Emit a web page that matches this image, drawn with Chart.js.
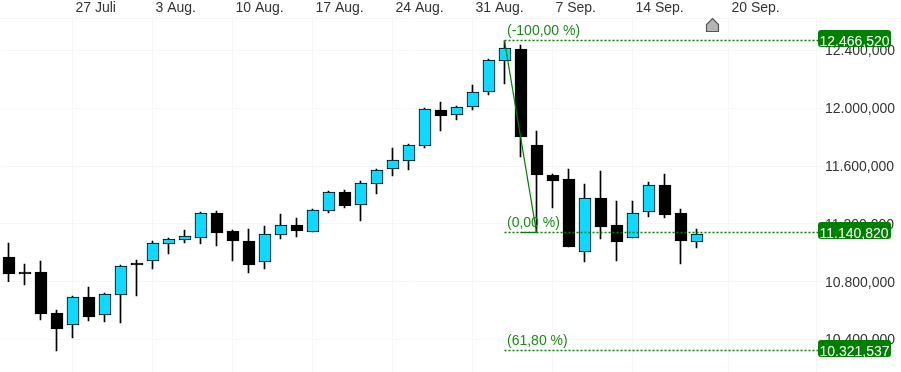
<!DOCTYPE html>
<html>
<head>
<meta charset="utf-8">
<style>
  html, body { margin: 0; padding: 0; background: #fff; }
  #wrap { width: 901px; height: 372px; }
</style>
<script src="https://cdn.jsdelivr.net/npm/chart.js@4/dist/chart.umd.min.js"></script>
</head>
<body>
<div id="wrap"><canvas id="chart" width="901" height="372"></canvas></div>
<script>
let dates = [
  "21 Juli", "22 Juli", "23 Juli", "24 Juli", "27 Juli", "28 Juli", "29 Juli", "30 Juli", "31 Juli",
  "3 Aug.", "4 Aug.", "5 Aug.", "6 Aug.", "7 Aug.", "10 Aug.", "11 Aug.", "12 Aug.", "13 Aug.", "14 Aug.",
  "17 Aug.", "18 Aug.", "19 Aug.", "20 Aug.", "21 Aug.", "24 Aug.", "25 Aug.", "26 Aug.", "27 Aug.", "28 Aug.",
  "31 Aug.", "1 Sep.", "2 Sep.", "3 Sep.", "4 Sep.", "7 Sep.", "8 Sep.", "9 Sep.", "10 Sep.", "11 Sep.",
  "14 Sep.", "15 Sep.", "16 Sep.", "17 Sep.", "18 Sep.", "19 Sep.", "20 Sep.", "21 Sep.", "22 Sep.", "23 Sep.", "24 Sep.", "25 Sep."
];
let week_labels = ["27 Juli", "3 Aug.", "10 Aug.", "17 Aug.", "24 Aug.", "31 Aug.", "7 Sep.", "14 Sep.", "20 Sep."];
let y_ticks = [10400000, 10800000, 11200000, 11600000, 12000000, 12400000];

let opens = [
  10971000, 10867200, 10867200, 10583500, 10500500, 10694200, 10569700, 10708100, 10929500, 10943400, 11061000,
  11088700, 11102500, 11275500, 11150900, 11081700, 10936400, 11123300, 11192500, 11144000, 11289300, 11420800,
  11330900, 11476200, 11580000, 11635300, 11739100, 11988300, 11953700, 12009000, 12112800, 12327300, 12410400,
  11746100, 11538500, 11510800, 11005600, 11379300, 11192500, 11102500, 11282400, 11469300, 11275500, 11074800
];
let highs = [
  11067900, 10922600, 10943400, 10604300, 10701100, 10763400, 10721900, 10915700, 10950300, 11081700, 11102500,
  11157900, 11282400, 11289300, 11157900, 11164800, 11185500, 11268600, 11240900, 11303200, 11427700, 11434700,
  11496900, 11580000, 11725300, 11753000, 12002100, 12043600, 12015900, 12161300, 12341200, 12466500, 12438100,
  11842900, 11545400, 11580000, 11476200, 11566100, 11358500, 11358500, 11490000, 11545400, 11303200, 11164800
];
let lows = [
  10800300, 10777300, 10535100, 10320500, 10410500, 10528100, 10521200, 10514300, 10701100, 10888000, 10991800,
  11067900, 11061000, 11047100, 10943400, 10860300, 10888000, 11095600, 11109400, 11144000, 11275500, 11310100,
  11220100, 11407000, 11531500, 11573100, 11725300, 11842900, 11919100, 11988300, 12092100, 12168200, 11663000,
  11140800, 11310100, 11040200, 10936400, 11095600, 10943400, 11102500, 11247800, 11240900, 10922600, 11033300
];
let closes = [
  10853400, 10853400, 10576600, 10472800, 10694200, 10555800, 10715000, 10908700, 10915700, 11067900, 11095600,
  11116300, 11275500, 11137100, 11081700, 10915700, 11130200, 11192500, 11150900, 11296300, 11420800, 11323900,
  11483100, 11573100, 11642300, 11746100, 11995200, 11946700, 12009000, 12112800, 12334300, 12417300, 11801400,
  11538500, 11496900, 11040200, 11379300, 11178600, 11074800, 11275500, 11469300, 11261700, 11081700, 11130200
];

let fib_values = [12466520, 11140820, 10321537];
let fib_texts = ["(-100,00 %)", "(0,00 %)", "(61,80 %)"];
let fib_boxes = ["12.466,520", "11.140,820", "10.321,537"];
let fib_start = "2 Sep.";
let swing_high = { x: "2 Sep.", y: 12466520 };
let swing_low = { x: "4 Sep.", y: 11140820 };
let swing_foot = { x: "3 Sep.", y: 11140820 };

const FONT = "14px 'Liberation Sans', Arial, sans-serif";
const GREEN = "#008000";
const GRID = "#f6f6f6";

let bodies = opens.map((o, i) => [o, closes[i]]);
let wicks = lows.map((l, i) => [l, highs[i]]);
let body_colors = opens.map((o, i) => closes[i] >= o ? "#10d8ff" : "#000000");

// body is 12px wide, so it sits half a pixel right of the wick
let shiftBodies = {
  id: "shiftBodies",
  afterDatasetsUpdate(chart) {
    chart.getDatasetMeta(1).data.forEach(bar => { bar.x += 0.5 });
  }
};

let fibLevels = {
  id: "fibLevels",
  afterDraw(chart) {
    let ctx = chart.ctx;
    let xs = chart.scales.x;
    let ys = chart.scales.y;
    ctx.save();
    // rule under the date row runs on over the value column
    ctx.strokeStyle = GRID;
    ctx.beginPath();
    ctx.moveTo(xs.right, 18.5);
    ctx.lineTo(chart.width, 18.5);
    ctx.stroke();

    fib_values.forEach((v, i) => {
      let y = Math.round(ys.getPixelForValue(v) - 0.5);
      ctx.strokeStyle = GREEN;
      ctx.lineWidth = 1.3;
      ctx.setLineDash([2, 2]);
      ctx.beginPath();
      ctx.moveTo(xs.getPixelForValue(fib_start), y + 0.5);
      ctx.lineTo(xs.right + 2, y + 0.5);
      ctx.stroke();
      ctx.setLineDash([]);

      ctx.font = FONT;
      ctx.fillStyle = "#1a8c1a";
      ctx.textAlign = "left";
      ctx.textBaseline = "alphabetic";
      ctx.fillText(fib_texts[i], xs.getPixelForValue(fib_start) + 2.5, y - 5);

      ctx.fillStyle = GREEN;
      ctx.beginPath();
      ctx.roundRect(818, y - 10, 73, 17, 3);
      ctx.fill();
      ctx.fillStyle = "#ffffff";
      ctx.fillText(fib_boxes[i], 819.5, y + 5.5);
    });

    // home marker above the last bars
    ctx.fillStyle = "#b4b4b4";
    ctx.strokeStyle = "#555555";
    ctx.lineWidth = 1.2;
    ctx.beginPath();
    ctx.moveTo(712.5, 18.5);
    ctx.lineTo(718.5, 24.5);
    ctx.lineTo(718.5, 31.5);
    ctx.lineTo(706.5, 31.5);
    ctx.lineTo(706.5, 24.5);
    ctx.closePath();
    ctx.fill();
    ctx.stroke();
    ctx.restore();
  }
};

new Chart(document.getElementById("chart"), {
  type: "bar",
  plugins: [shiftBodies, fibLevels],
  data: {
    labels: dates,
    datasets: [
      { data: wicks, backgroundColor: "#000000", barThickness: 1, grouped: false, order: 3 },
      {
        data: bodies, backgroundColor: body_colors, borderColor: "#000000", borderWidth: 1,
        borderSkipped: false, barThickness: 12, grouped: false, order: 2
      },
      {
        type: "line", data: [swing_high, swing_low], borderColor: GREEN, borderWidth: 1.2,
        pointRadius: 0, tension: 0, order: 1
      },
      {
        type: "line", data: [swing_foot, swing_low], borderColor: GREEN, borderWidth: 1.2,
        pointRadius: 0, tension: 0, order: 1
      }
    ]
  },
  options: {
    responsive: false,
    animation: false,
    events: [],
    layout: { padding: { left: 0.5 } },
    plugins: { legend: { display: false }, tooltip: { enabled: false } },
    scales: {
      x: {
        type: "category",
        position: "top",
        offset: true,
        afterBuildTicks: s => { s.ticks = s.ticks.filter(t => week_labels.includes(dates[t.value])) },
        afterFit: s => { s.height = 18; s.paddingLeft = 0; s.paddingRight = 0 },
        grid: { offset: false, color: GRID, drawTicks: false },
        border: { color: GRID },
        ticks: {
          autoSkip: false, maxRotation: 0, align: "start", labelOffset: 3, padding: 1,
          color: "#333333", font: { family: "'Liberation Sans', Arial, sans-serif", size: 14 }
        }
      },
      y: {
        position: "right",
        min: 10175220,
        max: 12624900,
        afterBuildTicks: s => { s.ticks = y_ticks.map(v => ({ value: v })) },
        afterFit: s => { s.width = 84.5; s.paddingTop = 0; s.paddingBottom = 0 },
        grid: { color: GRID, tickLength: 7 },
        border: { color: GRID },
        ticks: {
          padding: 1.5, labelOffset: 1, color: "#333333",
          font: { family: "'Liberation Sans', Arial, sans-serif", size: 14 },
          callback: v => {
            let s = String(v);
            return s.slice(0, -6) + "." + s.slice(-6, -3) + "," + s.slice(-3);
          }
        }
      }
    }
  }
});
</script>
</body>
</html>
